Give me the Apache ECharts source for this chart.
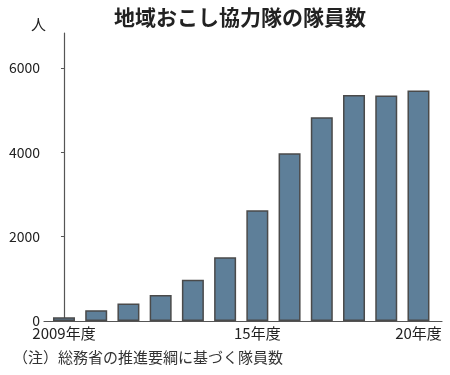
<!DOCTYPE html>
<html><head><meta charset="utf-8">
<script src="https://cdn.jsdelivr.net/npm/echarts@6/dist/echarts.min.js"></script>
<style>html,body{margin:0;padding:0;background:#fff}#c{width:450px;height:375px}</style>
</head><body><div id="c"></div>
<script>
const years = ['2009','2010','2011','2012','2013','2014','2015','2016','2017','2018','2019','2020'];
const labels = {0:'2009年度', 6:'15年度', 11:'20年度'};
const members = [89, 257, 413, 617, 978, 1511, 2625, 3978, 4830, 5359, 5349, 5464];
const yTicks = [0, 2000, 4000, 6000];

const F = '"Noto Sans CJK JP", "Noto Sans", sans-serif';
const chart = echarts.init(document.getElementById('c'));
chart.setOption({
  animation: false,
  backgroundColor: '#fff',
  title: {
    text: '地域おこし協力隊の隊員数',
    left: 235, textAlign: 'center', top: 2,
    textStyle: {fontFamily: F, fontSize: 21, fontWeight: 'bold', color: '#222'}
  },
  graphic: [{
    type: 'text', left: 13, top: 350,
    style: {text: '（注）総務省の推進要綱に基づく隊員数', fontFamily: F, fontSize: 15, fill: '#333'}
  }, {
    type: 'text', left: 31, top: 17,
    style: {text: '人', fontFamily: F, fontSize: 15, fill: '#222'}
  }],
  grid: {left: 44, right: 8, top: 33, bottom: 54},
  xAxis: {
    type: 'value', min: -0.62, max: 11.73,
    splitLine: {show: false},
    axisLine: {show: true, lineStyle: {color: '#555', width: 1.2}},
    axisTick: {show: false},
    axisLabel: {
      customValues: [0, 6, 11],
      formatter: v => labels[Math.round(v)] || '',
      fontFamily: F, fontSize: 15, color: '#222', margin: 5
    }
  },
  yAxis: {
    type: 'value', min: 0, max: 6830,
    splitLine: {show: false},
    axisLine: {show: true, lineStyle: {color: '#555', width: 1.2}},
    axisTick: {show: true, length: 3, customValues: yTicks.slice(1), lineStyle: {color: '#555'}},
    axisLabel: {customValues: yTicks, formatter: v => String(v), fontFamily: F, fontSize: 14, color: '#222', margin: 4}
  },
  series: [{
    type: 'bar',
    barWidth: 22,
    data: members.map((v, i) => [i, v]),
    itemStyle: {color: '#5e7f99', borderColor: '#4a4a4a', borderWidth: 1.5}
  }]
});
</script></body></html>
